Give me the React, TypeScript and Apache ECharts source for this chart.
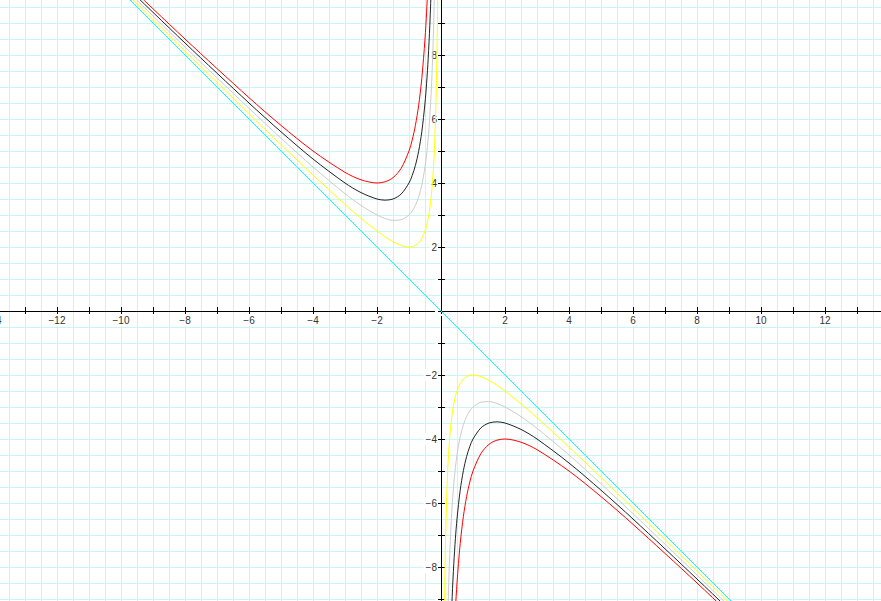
import React, { useEffect, useRef } from "react";
import * as echarts from "echarts";

// Sample x positions (left branch, x < 0) and values
const xLeft = [-14, -12, -10, -8, -6, -5, -4, -3, -2.5, -2, -1.75, -1.5, -1.25, -1, -0.9, -0.8, -0.7, -0.6, -0.5, -0.45, -0.4, -0.35, -0.3, -0.25, -0.2, -0.15, -0.12, -0.1];
const xRight = [0.1, 0.12, 0.15, 0.2, 0.25, 0.3, 0.35, 0.4, 0.45, 0.5, 0.6, 0.7, 0.8, 0.9, 1, 1.25, 1.5, 1.75, 2, 2.5, 3, 4, 5, 6, 8, 10, 12, 14];

// yellow curve
const yellowLeft = [14.0714, 12.0833, 10.1, 8.125, 6.1667, 5.2, 4.25, 3.3333, 2.9, 2.5, 2.3214, 2.1667, 2.05, 2, 2.0111, 2.05, 2.1286, 2.2667, 2.5, 2.6722, 2.9, 3.2071, 3.6333, 4.25, 5.2, 6.8167, 8.4533, 10.1];
const yellowRight = [-10.1, -8.4533, -6.8167, -5.2, -4.25, -3.6333, -3.2071, -2.9, -2.6722, -2.5, -2.2667, -2.1286, -2.05, -2.0111, -2, -2.05, -2.1667, -2.3214, -2.5, -2.9, -3.3333, -4.25, -5.2, -6.1667, -8.125, -10.1, -12.0833, -14.0714];
// light grey curve
const greyLeft = [14.1429, 12.1667, 10.2, 8.25, 6.3333, 5.4, 4.5, 3.6667, 3.3, 3, 2.8929, 2.8333, 2.85, 3, 3.1222, 3.3, 3.5571, 3.9333, 4.5, 4.8944, 5.4, 6.0643, 6.9667, 8.25, 10.2, 13.4833, 16.787, 20.1];
const greyRight = [-20.1, -16.787, -13.4833, -10.2, -8.25, -6.9667, -6.0643, -5.4, -4.8944, -4.5, -3.9333, -3.5571, -3.3, -3.1222, -3, -2.85, -2.8333, -2.8929, -3, -3.3, -3.6667, -4.5, -5.4, -6.3333, -8.25, -10.2, -12.1667, -14.1429];
// black curve
const blackLeft = [14.2143, 12.25, 10.3, 8.375, 6.5, 5.6, 4.75, 4, 3.7, 3.5, 3.4643, 3.5, 3.65, 4, 4.2333, 4.55, 4.9857, 5.6, 6.5, 7.1167, 7.9, 8.9214, 10.3, 12.25, 15.2, 20.15, 25.12, 30.1];
const blackRight = [-30.1, -25.12, -20.15, -15.2, -12.25, -10.3, -8.9214, -7.9, -7.1167, -6.5, -5.6, -4.9857, -4.55, -4.2333, -4, -3.65, -3.5, -3.4643, -3.5, -3.7, -4, -4.75, -5.6, -6.5, -8.375, -10.3, -12.25, -14.2143];
// red curve
const redLeft = [14.2857, 12.3333, 10.4, 8.5, 6.6667, 5.8, 5, 4.3333, 4.1, 4, 4.0357, 4.1667, 4.45, 5, 5.3444, 5.8, 6.4143, 7.2667, 8.5, 9.3389, 10.4, 11.7786, 13.6333, 16.25, 20.2, 26.8167, 33.453, 40.1];
const redRight = [-40.1, -33.453, -26.8167, -20.2, -16.25, -13.6333, -11.7786, -10.4, -9.3389, -8.5, -7.2667, -6.4143, -5.8, -5.3444, -5, -4.45, -4.1667, -4.0357, -4, -4.1, -4.3333, -5, -5.8, -6.6667, -8.5, -10.4, -12.3333, -14.2857];
// cyan asymptote line
const lineX = [-14, 14];
const lineY = [14, -14];

const xTicks = [-14, -12, -10, -8, -6, -4, -2, 2, 4, 6, 8, 10, 12];
const yTicks = [-8, -6, -4, -2, 2, 4, 6, 8];

const zip = (xs: number[], ys: number[]) => xs.map((x, i) => [x, ys[i]]);

const GRID = "#c8f5f5";

const fmt = (list: number[]) => (v: number) => {
  const r = Math.round(v);
  if (!list.includes(r) || Math.abs(v - r) > 1e-6) return "";
  return r < 0 ? "\u2212" + Math.abs(r) : String(r);
};

const labelBase = {
  fontFamily: "Liberation Sans, Arial, sans-serif",
  fontSize: 10,
  color: "#333",
  backgroundColor: "#fff",
};

// grid geometry: x in [-14, 14] over 896px, y in [-10, 10] over 640px (32 px per unit)
const GRID_LEFT = -7;
const GRID_TOP = -9;
const GRID_W = 896;
const GRID_H = 640;
const X_OFF = -(GRID_W / 2); // move vertical axis from grid edge to x = 0
const Y_OFF = -(GRID_H / 2); // move horizontal axis from grid edge to y = 0

export default function App() {
  const ref = useRef<HTMLDivElement>(null);
  useEffect(() => {
    if (!ref.current) return;
    const chart = echarts.init(ref.current, null, { renderer: "svg" });
    const lineSeries = (name: string, data: number[][], color: string) => ({
      name,
      type: "line",
      data,
      showSymbol: false,
      symbol: "none",
      smooth: 0.3,
      lineStyle: { color, width: 1 },
      xAxisIndex: 0,
      yAxisIndex: 0,
      z: 3,
    });
    chart.setOption({
      animation: false,
      backgroundColor: "#fff",
      grid: {
        left: GRID_LEFT,
        top: GRID_TOP,
        width: GRID_W,
        height: GRID_H,
        containLabel: false,
        outerBoundsMode: "none",
      },
      xAxis: [
        {
          type: "value",
          min: -14,
          max: 14,
          interval: 1,
          position: "bottom",
          offset: Y_OFF,
          axisLine: { onZero: false, lineStyle: { color: "#000", width: 1 } },
          axisTick: { show: true, length: 4, lineStyle: { color: "#000" } },
          axisLabel: { ...labelBase, margin: 3, padding: [1, 2, 1, 2], formatter: fmt(xTicks), showMinLabel: true, showMaxLabel: false, hideOverlap: false },
          splitLine: { show: true, lineStyle: { color: GRID, width: 1 } },
          minorTick: { show: false, splitNumber: 2 },
          minorSplitLine: { show: true, lineStyle: { color: GRID, width: 1 } },
        },
        {
          type: "value",
          min: -14,
          max: 14,
          interval: 1,
          position: "top",
          offset: Y_OFF,
          axisLine: { onZero: false, lineStyle: { color: "#000", width: 1 } },
          axisTick: { show: true, length: 4, lineStyle: { color: "#000" } },
          axisLabel: { show: false },
          splitLine: { show: false },
        },
      ],
      yAxis: [
        {
          type: "value",
          min: -10,
          max: 10,
          interval: 1,
          position: "left",
          offset: X_OFF,
          axisLine: { onZero: false, lineStyle: { color: "#000", width: 1 } },
          axisTick: { show: true, length: 4, lineStyle: { color: "#000" } },
          axisLabel: { ...labelBase, margin: 3, padding: [1, 1, 1, 2], formatter: fmt(yTicks), showMinLabel: false, showMaxLabel: false, hideOverlap: false },
          splitLine: { show: true, lineStyle: { color: GRID, width: 1 } },
          minorTick: { show: false, splitNumber: 2 },
          minorSplitLine: { show: true, lineStyle: { color: GRID, width: 1 } },
        },
        {
          type: "value",
          min: -10,
          max: 10,
          interval: 1,
          position: "right",
          offset: X_OFF,
          axisLine: { onZero: false, lineStyle: { color: "#000", width: 1 } },
          axisTick: { show: true, length: 4, lineStyle: { color: "#000" } },
          axisLabel: { show: false },
          splitLine: { show: false },
        },
      ],
      series: [
        lineSeries("y = -x", zip(lineX, lineY), "#00ffff"),
        lineSeries("a=1 left", zip(xLeft, yellowLeft), "#ffff00"),
        lineSeries("a=1 right", zip(xRight, yellowRight), "#ffff00"),
        lineSeries("a=2 left", zip(xLeft, greyLeft), "#cccccc"),
        lineSeries("a=2 right", zip(xRight, greyRight), "#cccccc"),
        lineSeries("a=3 left", zip(xLeft, blackLeft), "#222222"),
        lineSeries("a=3 right", zip(xRight, blackRight), "#222222"),
        lineSeries("a=4 left", zip(xLeft, redLeft), "#ff0000"),
        lineSeries("a=4 right", zip(xRight, redRight), "#ff0000"),
      ],
    });
    return () => chart.dispose();
  }, []);
  return (
    <div
      ref={ref}
      style={{ position: "absolute", left: 0, top: 0, width: 881, height: 601 }}
    />
  );
}
